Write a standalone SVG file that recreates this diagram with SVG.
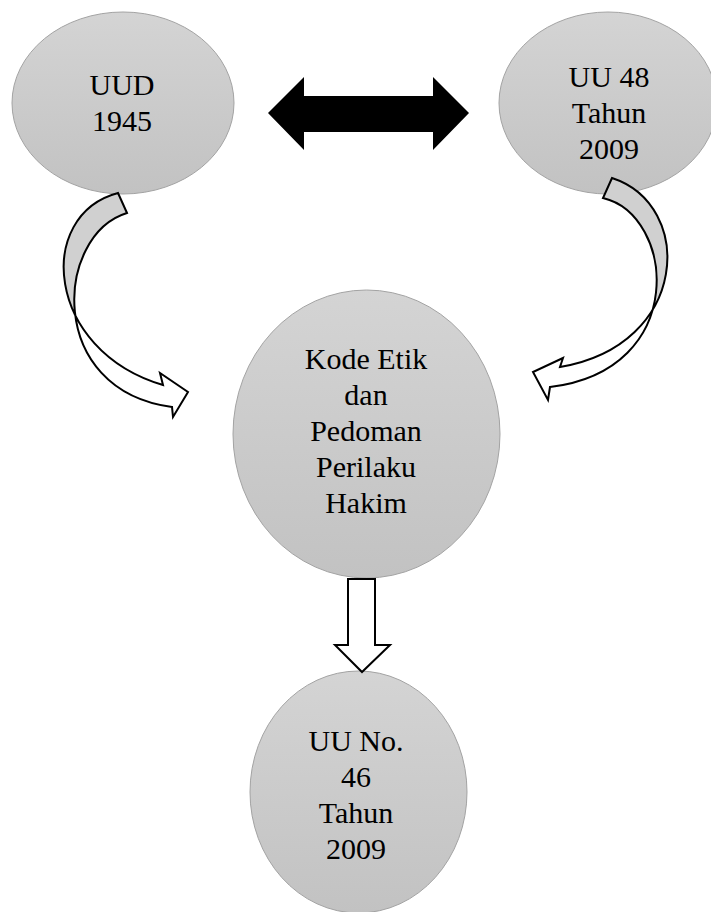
<svg xmlns="http://www.w3.org/2000/svg" width="711" height="912" viewBox="0 0 711 912">
  <style>
    .node { fill: url(#nodeFill); stroke: #a3a3a3; stroke-width: 1; }
    .label { font-family: "Liberation Serif", "Times New Roman", serif; font-size: 30px; fill: #000; text-anchor: middle; }
    .outline { fill: none; stroke: #000; stroke-width: 2; stroke-linejoin: miter; }
    .band-back { fill: #d0d0d0; }
    .band-front { fill: #fff; }
  </style>
  <defs>
    <linearGradient id="nodeFill" x1="0" y1="0" x2="0" y2="1">
      <stop offset="0" stop-color="#d4d4d4"/>
      <stop offset="1" stop-color="#c2c2c2"/>
    </linearGradient>
    <clipPath id="leftTwist"><rect x="0" y="150" width="300" height="165"/></clipPath>
    <clipPath id="rightTwist"><rect x="450" y="150" width="261" height="153"/></clipPath>
    <path id="leftCurve" d="M118,193 L127,213 C55,235 45,390 172,407 L173,417 L188,392 L160,373 L163,385 C45,350 35,215 118,193 Z"/>
    <path id="rightCurve" d="M612,178 L603,198 C675,215 690,370 550,387 L548,400 L533,372 L563,358 L560,367 C690,345 695,205 612,178 Z"/>
  </defs>

  <rect width="711" height="912" fill="#fff"/>

  <!-- nodes -->
  <g id="uud-1945">
    <ellipse class="node" cx="123" cy="103" rx="111" ry="91"/>
    <text class="label" x="122" y="95">UUD</text>
    <text class="label" x="122" y="131">1945</text>
  </g>

  <g id="uu-48-2009">
    <ellipse class="node" cx="608" cy="103" rx="109" ry="91"/>
    <text class="label" x="609" y="87">UU 48</text>
    <text class="label" x="609" y="123">Tahun</text>
    <text class="label" x="609" y="159">2009</text>
  </g>

  <g id="kode-etik">
    <ellipse class="node" cx="366.5" cy="434" rx="133.5" ry="144"/>
    <text class="label" x="366" y="369">Kode Etik</text>
    <text class="label" x="366" y="405">dan</text>
    <text class="label" x="366" y="441">Pedoman</text>
    <text class="label" x="366" y="477">Perilaku</text>
    <text class="label" x="366" y="513">Hakim</text>
  </g>

  <g id="uu-46-2009">
    <ellipse class="node" cx="358.5" cy="792" rx="108.5" ry="121"/>
    <text class="label" x="356" y="751">UU No.</text>
    <text class="label" x="356" y="787">46</text>
    <text class="label" x="356" y="823">Tahun</text>
    <text class="label" x="356" y="859">2009</text>
  </g>

  <!-- connectors -->
  <g id="connectors">
    <!-- two-way arrow between the top nodes -->
    <polygon fill="#000" points="268,113 304,77 304,96 433,96 433,77 469,113 433,150 433,132 304,132 304,150"/>

    <!-- curved ribbon arrow, left -->
    <g id="curve-left">
      <use href="#leftCurve" class="band-front"/>
      <use href="#leftCurve" class="band-back" clip-path="url(#leftTwist)"/>
      <use href="#leftCurve" class="outline"/>
    </g>

    <!-- curved ribbon arrow, right -->
    <g id="curve-right">
      <use href="#rightCurve" class="band-front"/>
      <use href="#rightCurve" class="band-back" clip-path="url(#rightTwist)"/>
      <use href="#rightCurve" class="outline"/>
    </g>

    <!-- block arrow down -->
    <polygon fill="#fff" stroke="#000" stroke-width="2" points="348,579 375,579 375,645 390,645 362,672 335,645 348,645"/>
  </g>
</svg>
